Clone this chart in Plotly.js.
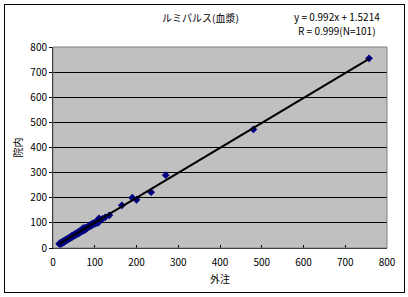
<!DOCTYPE html>
<html><head><meta charset="utf-8">
<script src="https://cdn.plot.ly/plotly-3.0.1.min.js"></script>
<style>
html,body{margin:0;padding:0;background:#fff;}
#wrap{position:relative;width:408px;height:297px;}
#chart{width:408px;height:297px;}
#frame{position:absolute;left:4px;top:4px;width:399px;height:287px;border:1px solid #000;pointer-events:none;}
</style></head>
<body><div id="wrap"><div id="chart"></div><div id="frame"></div></div>
<script>
const titleText = "ルミパルス(血漿)";
const eqLine1 = "y = 0.992x + 1.5214";
const eqLine2 = "R = 0.999(N=101)";
const xTitle = "外注";
const yTitle = "院内";
const slope = 0.992;
const intercept = 1.5214;

const gaichu = [15,16,17,18,18,19,20,21,22,23,24,25,25,26,27,28,29,30,31,32,33,34,35,36,37,38,39,40,41,42,43,44,45,46,47,48,49,50,51,52,53,54,55,56,57,58,59,60,61,62,63,64,65,66,67,68,69,70,71,72,73,74,75,76,77,78,79,80,82,84,85,86,88,89,90,92,93,95,96,98,100,102,104,106,110,108,112,118,125,135,165,190,200,235,270,480,757,28,45,62,72];
const innai = [17,15,19,16,20,18,22,19,23,21,26,24,22,28,25,27,31,29,33,30,34,32,37,35,38,36,41,39,43,40,45,42,47,44,49,46,51,48,54,50,55,52,57,53,58,56,62,58,63,60,66,61,64,69,65,71,67,74,68,73,76,70,79,72,78,80,75,81,80,85,83,88,86,92,87,93,90,98,94,96,101,97,104,102,118,100,108,116,122,130,170,200,192,222,290,472,755,25,48,59,79];

const lineX = [Math.min(...gaichu), Math.max(...gaichu)];
const lineY = lineX.map(v => slope*v + intercept);

const fontJP = '"MS PGothic","Noto Sans CJK JP",sans-serif';

const data = [
  {x: gaichu, y: innai, type:'scatter', mode:'markers',
   marker:{symbol:'diamond', size:6, color:'#000080'}, hoverinfo:'skip'},
  {x: lineX, y: lineY, type:'scatter', mode:'lines',
   line:{color:'#000', width:2}, hoverinfo:'skip'}
];

const layout = {
  width:408, height:297,
  margin:{l:53, r:21, t:47, b:49},
  paper_bgcolor:'#fff', plot_bgcolor:'#c0c0c0',
  showlegend:false,
  font:{family:fontJP, size:10, color:'#000'},
  xaxis:{range:[0,800], dtick:100, tick0:0, showgrid:false, zeroline:false,
    showline:true, linecolor:'#000', linewidth:1, mirror:false,
    ticks:'inside', ticklen:3, tickcolor:'#000', ticklabelstandoff:5,
    tickfont:{size:10, family:fontJP},
    title:{text:xTitle, font:{size:10, family:fontJP}, standoff:7}},
  yaxis:{range:[0,800], dtick:100, tick0:0, showgrid:true, gridcolor:'#000', gridwidth:1,
    zeroline:false, showline:true, linecolor:'#000', linewidth:1,
    ticks:'outside', ticklen:3, tickcolor:'#000',
    tickfont:{size:10, family:fontJP},
    title:{text:yTitle, font:{size:10, family:fontJP}, standoff:5}},
  shapes:[
    {type:'rect', xref:'paper', yref:'paper', x0:0, x1:1, y0:0, y1:1,
     line:{color:'#808080', width:1}, fillcolor:'rgba(0,0,0,0)', layer:'above'}
  ],
  annotations:[
    {text:titleText, xref:'paper', yref:'paper', x:0.443, y:1.149, showarrow:false,
     xanchor:'center', yanchor:'middle', font:{size:10, family:fontJP}},
    {text:eqLine1, xref:'paper', yref:'paper', x:0.85, y:1.154, borderpad:0,
     showarrow:false, xanchor:'center', yanchor:'middle',
     font:{size:10, family:fontJP}},
    {text:eqLine2, xref:'paper', yref:'paper', x:0.85, y:1.080, borderpad:0,
     showarrow:false, xanchor:'center', yanchor:'middle',
     font:{size:10, family:fontJP}}
  ]
};
Plotly.newPlot('chart', data, layout, {displayModeBar:false, staticPlot:true});
</script></body></html>
